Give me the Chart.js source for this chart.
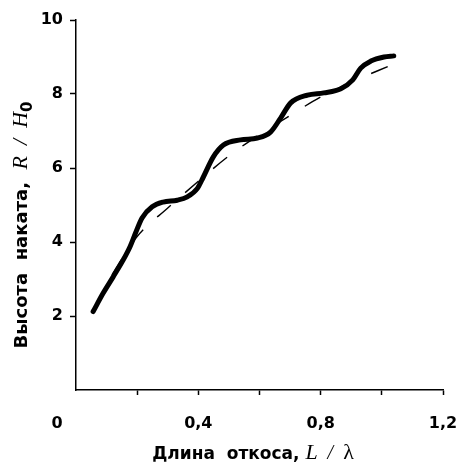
<!DOCTYPE html>
<html>
<head>
<meta charset="utf-8">
<script src="https://cdn.jsdelivr.net/npm/chart.js@4.4.1/dist/chart.umd.min.js"></script>
<style>
  html, body { margin: 0; padding: 0; background: #fff; }
</style>
</head>
<body>
<canvas id="myChart" width="456" height="465"></canvas>
<script>
// solid wavy curve, R/H0 against L/lambda
const curveL = [0.056, 0.089, 0.121, 0.154, 0.177, 0.195, 0.216, 0.249, 0.285, 0.331, 0.364, 0.397, 0.416, 0.449, 0.482, 0.538, 0.593, 0.636, 0.669, 0.702, 0.757, 0.810, 0.866, 0.905, 0.931, 0.964, 1.007, 1.039];
const curveR = [2.12, 2.62, 3.05, 3.51, 3.88, 4.25, 4.65, 4.95, 5.08, 5.13, 5.22, 5.45, 5.75, 6.30, 6.62, 6.76, 6.81, 6.97, 7.35, 7.76, 7.97, 8.03, 8.14, 8.38, 8.70, 8.89, 9.00, 9.03];

// dashed trend curve
const trendL = [0.062, 0.10, 0.15, 0.20, 0.30, 0.40, 0.50, 0.60, 0.70, 0.80, 0.90, 1.03];
const trendR = [2.22, 2.85, 3.55, 4.15, 4.92, 5.64, 6.33, 6.90, 7.42, 7.92, 8.32, 8.78];

// tick labels
const xLabelled = [0.4, 0.8, 1.2];
const yLabelled = [2, 4, 6, 8, 10];

const tickFont = { family: '"DejaVu Sans"', size: 16, weight: 'bold' };

function drawParts(ctx, parts, cx, baseline) {
    let total = 0;
    parts.forEach(p => { ctx.font = p[1]; total += ctx.measureText(p[0]).width; });
    let x = cx - total / 2;
    ctx.textAlign = 'left';
    ctx.textBaseline = 'alphabetic';
    parts.forEach(p => {
        ctx.font = p[1];
        ctx.fillText(p[0], x, baseline + (p[2] || 0));
        x += ctx.measureText(p[0]).width;
    });
}

const axisTitles = {
    id: 'axisTitles',
    afterDraw(chart) {
        const ctx = chart.ctx;
        ctx.save();
        ctx.fillStyle = '#000';

        // origin label sits left of the axis
        ctx.font = 'bold 16px "DejaVu Sans"';
        ctx.textAlign = 'center';
        ctx.textBaseline = 'middle';
        ctx.fillText('0', chart.scales.x.getPixelForValue(0) - 19, 424);

        // x title
        drawParts(ctx, [
            ['Длина  откоса, ', 'bold 17px "DejaVu Sans"'],
            ['L', 'italic 22px "Liberation Serif"'],
            ['  /  ', 'italic 20px "Liberation Serif"'],
            ['λ', '22px "Liberation Serif"']
        ], 253, 459);

        // y title
        ctx.translate(20, 225);
        ctx.rotate(-Math.PI / 2);
        drawParts(ctx, [
            ['Высота  наката,  ', 'bold 18px "DejaVu Sans"'],
            ['R', 'italic 22px "Liberation Serif"'],
            ['  /  ', 'italic 22px "Liberation Serif"'],
            ['H', 'italic 22px "Liberation Serif"'],
            ['0', 'bold 15px "DejaVu Sans"', 5]
        ], 0, 7);
        ctx.restore();
    }
};

const ctx = document.getElementById('myChart').getContext('2d');
const myChart = new Chart(ctx, {
    type: 'line',
    data: {
        datasets: [
            {
                data: trendL.map((l, i) => ({ x: l, y: trendR[i] })),
                borderColor: '#000',
                borderWidth: 1.4,
                borderDash: [18, 19],
                pointRadius: 0,
                cubicInterpolationMode: 'monotone'
            },
            {
                data: curveL.map((l, i) => ({ x: l, y: curveR[i] })),
                borderColor: '#000',
                borderWidth: 5,
                borderCapStyle: 'round',
                borderJoinStyle: 'round',
                pointRadius: 0,
                cubicInterpolationMode: 'monotone'
            }
        ]
    },
    options: {
        responsive: false,
        animation: false,
        layout: { padding: { top: 20, right: 13, left: 0, bottom: 0 } },
        plugins: {
            legend: { display: false },
            tooltip: { enabled: false }
        },
        scales: {
            x: {
                type: 'linear',
                min: 0,
                max: 1.2,
                afterFit: scale => {
                    scale.height = 75;
                    scale.paddingLeft = 0;
                    scale.paddingRight = 0;
                },
                border: { color: '#000', width: 1.5 },
                grid: {
                    drawOnChartArea: false,
                    tickLength: 5,
                    tickWidth: 1.5,
                    tickColor: c => (c.tick && c.tick.value === 0 ? 'rgba(0,0,0,0)' : '#000')
                },
                ticks: {
                    stepSize: 0.2,
                    padding: 19,
                    color: '#000',
                    font: tickFont,
                    maxRotation: 0,
                    callback: v => {
                        const r = Math.round(v * 10) / 10;
                        return xLabelled.includes(r) ? r.toFixed(1).replace('.', ',') : '';
                    }
                }
            },
            y: {
                min: 0,
                max: 10,
                afterFit: scale => {
                    scale.width = 76;
                    scale.paddingTop = 0;
                    scale.paddingBottom = 0;
                },
                border: { color: '#000', width: 1.5 },
                grid: {
                    drawOnChartArea: false,
                    tickLength: 6,
                    tickWidth: 1.5,
                    tickColor: c => (c.tick && c.tick.value === 0 ? 'rgba(0,0,0,0)' : '#000')
                },
                ticks: {
                    stepSize: 2,
                    padding: 7,
                    color: '#000',
                    font: tickFont,
                    callback: v => (yLabelled.includes(v) ? String(v) : '')
                }
            }
        }
    },
    plugins: [axisTitles]
});
</script>
</body>
</html>
